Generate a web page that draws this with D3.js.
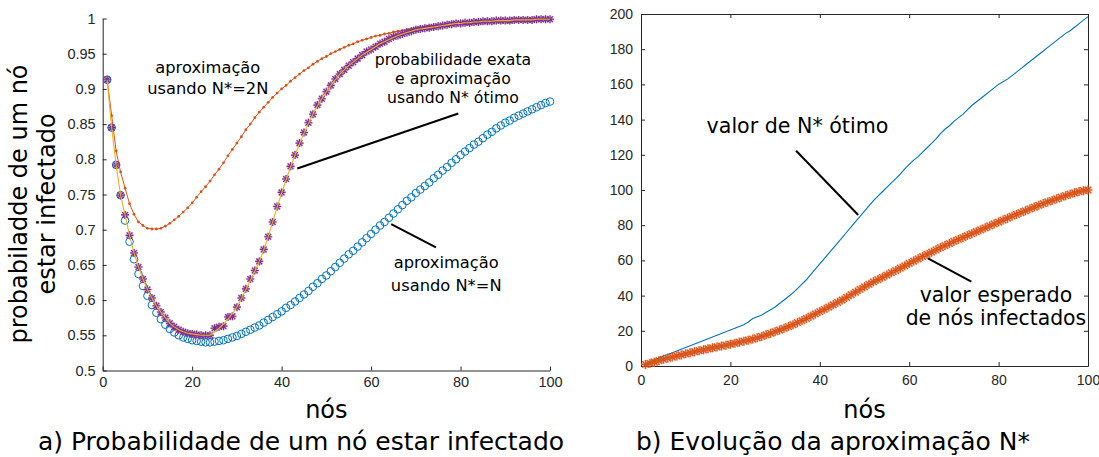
<!DOCTYPE html>
<html><head><meta charset="utf-8">
<script src="https://cdn.jsdelivr.net/npm/d3@7"></script>
<style>body{margin:0;background:#fff} svg{display:block}</style>
</head><body>
<svg id="c" width="1099" height="457"></svg>
<script>
// ---------- DATA ----------
const nos = d3.range(1, 101);

// a) probabilidade de um nó estar infectado
const probNstarN = [0.913,0.845,0.792,0.749,0.713,0.683,0.658,0.637,0.620,0.606,
0.593,0.582,0.573,0.565,0.559,0.554,0.550,0.547,0.545,0.543,
0.542,0.541,0.540,0.540,0.541,0.542,0.543,0.545,0.547,0.549,
0.552,0.555,0.558,0.561,0.564,0.568,0.572,0.576,0.580,0.584,
0.589,0.593,0.598,0.603,0.608,0.613,0.619,0.624,0.630,0.635,
0.641,0.647,0.653,0.659,0.665,0.670,0.676,0.682,0.688,0.694,
0.700,0.706,0.711,0.717,0.723,0.729,0.735,0.741,0.746,0.752,
0.757,0.762,0.767,0.773,0.778,0.784,0.789,0.795,0.800,0.806,
0.811,0.816,0.821,0.825,0.830,0.835,0.839,0.844,0.848,0.852,
0.855,0.859,0.862,0.865,0.868,0.871,0.874,0.877,0.880,0.882];

const probNstar2N = [0.913,0.862,0.812,0.782,0.759,0.737,0.722,0.711,0.706,0.702,
0.701,0.701,0.702,0.705,0.709,0.714,0.719,0.725,0.731,0.738,
0.746,0.754,0.761,0.769,0.778,0.786,0.795,0.805,0.814,0.823,
0.832,0.842,0.850,0.859,0.867,0.874,0.881,0.888,0.894,0.900,
0.905,0.911,0.916,0.921,0.926,0.930,0.935,0.939,0.943,0.946,
0.950,0.953,0.956,0.959,0.962,0.964,0.967,0.969,0.971,0.973,
0.975,0.976,0.978,0.979,0.981,0.982,0.983,0.984,0.985,0.986,
0.987,0.988,0.989,0.989,0.990,0.991,0.991,0.992,0.992,0.993,
0.993,0.994,0.994,0.995,0.995,0.995,0.996,0.996,0.996,0.997,
0.997,0.997,0.997,0.998,0.998,0.998,0.998,0.998,0.999,0.999];

const probExata = [0.913,0.845,0.792,0.749,0.721,0.692,0.667,0.647,0.630,0.615,
0.603,0.592,0.583,0.575,0.567,0.562,0.558,0.555,0.553,0.552,
0.551,0.550,0.550,0.550,0.555,0.560,0.566,0.573,0.581,0.590,
0.602,0.615,0.628,0.641,0.655,0.671,0.690,0.711,0.732,0.752,
0.771,0.789,0.806,0.822,0.837,0.851,0.864,0.876,0.886,0.896,
0.905,0.913,0.921,0.927,0.933,0.938,0.943,0.948,0.952,0.956,
0.960,0.964,0.967,0.970,0.973,0.976,0.978,0.980,0.982,0.984,
0.985,0.986,0.987,0.988,0.989,0.990,0.991,0.992,0.993,0.993,
0.994,0.994,0.995,0.995,0.996,0.996,0.996,0.997,0.997,0.997,
0.997,0.998,0.998,0.998,0.998,0.998,0.999,0.999,0.999,0.999];

const probNstarOtimo = [0.913,0.845,0.792,0.749,0.721,0.692,0.667,0.647,0.630,0.615,
0.603,0.592,0.583,0.575,0.567,0.562,0.558,0.555,0.553,0.552,
0.551,0.550,0.550,0.550,0.560,0.562,0.563,0.576,0.577,0.590,
0.603,0.616,0.630,0.642,0.655,0.672,0.690,0.711,0.733,0.753,
0.772,0.790,0.806,0.823,0.838,0.852,0.864,0.877,0.886,0.896,
0.905,0.914,0.921,0.927,0.933,0.938,0.943,0.948,0.953,0.956,
0.960,0.964,0.967,0.971,0.974,0.976,0.978,0.980,0.982,0.984,
0.985,0.986,0.987,0.988,0.989,0.990,0.991,0.992,0.993,0.993,
0.994,0.994,0.995,0.995,0.996,0.996,0.996,0.997,0.997,0.997,
0.997,0.998,0.998,0.998,0.998,0.998,0.999,0.999,0.999,0.999];

// b) evolução da aproximação N*
const valorNstarOtimo = [1,2.5,3.5,4.5,5.5,6.5,7.5,8.5,9.5,10.5,
11.5,12.5,13.5,14.5,15.5,16.5,17.5,18.5,19.5,20.5,
21.5,22.5,23.5,25,27,28,29,30.5,32,33.5,
35.5,37.5,39.5,41.5,44,46.5,49,52,55,58,
61,64,67,70,73,76,79,82,85,88,
91,94,96.5,99,101.5,104,106.5,109,112,114.5,
117,119,121.5,124,126.5,129,132,134.5,136.5,139,
141,143,145.5,148,150,152,154,156,158,160,
161.5,163,165,167,169,171,173,175,177,179,
181,183,185,187,189,190.5,192.5,194.5,196.5,198.5];

const valorEsperado = [0.9,1.5,2.2,3.0,3.8,4.5,5.1,5.7,6.3,6.9,
7.5,8.1,8.7,9.2,9.8,10.3,10.8,11.3,11.8,12.4,
12.9,13.5,14.1,14.7,15.3,16.0,16.8,17.7,18.6,19.5,
20.4,21.4,22.4,23.5,24.6,25.8,27.0,28.3,29.6,30.9,
32.2,33.5,34.8,36.2,37.5,39.0,40.5,42.0,43.5,45.0,
46.4,47.8,49.1,50.4,51.7,53.0,54.3,55.6,56.9,58.3,
59.6,60.9,62.2,63.4,64.7,66.0,67.3,68.4,69.6,70.8,
71.9,73.0,74.1,75.2,76.3,77.4,78.5,79.6,80.7,81.8,
82.9,84.0,85.1,86.1,87.2,88.2,89.3,90.3,91.3,92.3,
93.2,94.1,95.0,95.9,96.8,97.6,98.4,99.1,99.6,100.0];

// ticks
const xTicks = [0,20,40,60,80,100];
const xTickLabels = ["0","20","40","60","80","100"];
const yTicksL = [0.5,0.55,0.6,0.65,0.7,0.75,0.8,0.85,0.9,0.95,1];
const yTickLabelsL = ["0.5","0.55","0.6","0.65","0.7","0.75","0.8","0.85","0.9","0.95","1"];
const yTicksR = [0,20,40,60,80,100,120,140,160,180,200];
const yTickLabelsR = ["0","20","40","60","80","100","120","140","160","180","200"];

// texts
const xLabel = "nós";
const yLabelL = ["probabiladde de um nó", "estar infectado"];
const captionA = "a) Probabilidade de um nó estar infectado";
const captionB = "b) Evolução da aproximação N*";
const annot2N = ["aproximação", "usando N*=2N"];
const annotOtimo = ["probabilidade exata", "e aproximação", "usando N* ótimo"];
const annotN = ["aproximação", "usando N*=N"];
const annotValorOtimo = ["valor de N* ótimo"];
const annotEsperado = ["valor esperado", "de nós infectados"];

// ---------- DRAW ----------
const C = {blue:"#0072BD", red:"#D95319", yellow:"#EDB120", purple:"#7E2F8E", axis:"#262626"};
const svg = d3.select("#c");
const TXT = "DejaVu Sans, sans-serif";
const TICKF = "Liberation Sans, Arial, sans-serif";

const xL = d3.scaleLinear().domain([0,100]).range([102.7,550]);
const yL = d3.scaleLinear().domain([0.5,1]).range([370.5,18.5]);
const xR = d3.scaleLinear().domain([0,100]).range([641,1088]);
const yR = d3.scaleLinear().domain([0,200]).range([366,14]);

function styleAxis(g, fs){
  g.select(".domain").attr("stroke", C.axis).attr("stroke-width",1);
  g.selectAll(".tick line").attr("stroke", C.axis).attr("stroke-width",1);
  g.selectAll(".tick text").attr("fill", C.axis).attr("font-family", TICKF).attr("font-size", fs);
}
function fmt(ticks, labels){ return d => labels[ticks.indexOf(d)]; }

// asterisk marker path
function star(r){
  const k = r*0.72;
  return `M${-r},0L${r},0M0,${-r}L0,${r}M${-k},${-k}L${k},${k}M${-k},${k}L${k},${-k}`;
}

// ===== Left chart =====
const gL = svg.append("g");
gL.append("g").attr("transform",`translate(0,${yL(0.5)})`)
  .call(d3.axisBottom(xL).tickValues(xTicks).tickFormat(fmt(xTicks,xTickLabels)).tickSizeInner(-4).tickSizeOuter(0).tickPadding(6))
  .call(g=>styleAxis(g,14.5));
gL.append("g").attr("transform",`translate(${xL(0)},0)`)
  .call(d3.axisLeft(yL).tickValues(yTicksL).tickFormat(fmt(yTicksL,yTickLabelsL)).tickSizeInner(-4).tickSizeOuter(0).tickPadding(7))
  .call(g=>styleAxis(g,14.5));

// blue circles (N*=N)
gL.append("g").selectAll("circle").data(nos).join("circle")
  .attr("cx", (d,i)=>xL(d)).attr("cy",(d,i)=>yL(probNstarN[i])).attr("r",3.8)
  .attr("fill","none").attr("stroke",C.blue).attr("stroke-width",1);

// red line with dots (N*=2N)
const lineL = (arr)=>d3.line().x((d,i)=>xL(nos[i])).y(d=>yL(d))(arr);
gL.append("path").attr("d", lineL(probNstar2N)).attr("fill","none").attr("stroke",C.red).attr("stroke-width",1);
gL.append("g").selectAll("circle").data(nos).join("circle")
  .attr("cx",d=>xL(d)).attr("cy",(d,i)=>yL(probNstar2N[i])).attr("r",1.4).attr("fill",C.red);

// purple asterisks (N* ótimo)
const gS = gL.append("g");
gS.selectAll("path.h").data(nos).join("path").attr("class","h")
  .attr("transform",(d,i)=>`translate(${xL(d)},${yL(probNstarOtimo[i])})`)
  .attr("d", star(4)).attr("stroke",C.purple).attr("stroke-opacity",0.35).attr("stroke-width",2.2).attr("fill","none");
gS.selectAll("path.s").data(nos).join("path").attr("class","s")
  .attr("transform",(d,i)=>`translate(${xL(d)},${yL(probNstarOtimo[i])})`)
  .attr("d", star(4)).attr("stroke",C.purple).attr("stroke-width",1.1).attr("fill","none");

// yellow exact line
gL.append("path").attr("d", lineL(probExata)).attr("fill","none").attr("stroke",C.yellow).attr("stroke-width",1.1);

// ===== Right chart =====
const gR = svg.append("g");
gR.append("g").attr("transform",`translate(0,${yR(0)})`)
  .call(d3.axisBottom(xR).tickValues(xTicks).tickFormat(fmt(xTicks,xTickLabels)).tickSizeInner(-4).tickSizeOuter(0).tickPadding(9))
  .call(g=>styleAxis(g,14));
gR.append("g").attr("transform",`translate(${xR(0)},0)`)
  .call(d3.axisLeft(yR).tickValues(yTicksR).tickFormat(fmt(yTicksR,yTickLabelsR)).tickSizeInner(-4).tickSizeOuter(0).tickPadding(8))
  .call(g=>styleAxis(g,14));
gR.append("g").attr("transform",`translate(0,${yR(200)})`)
  .call(d3.axisTop(xR).tickValues(xTicks).tickFormat("").tickSizeInner(-4).tickSizeOuter(0))
  .call(g=>styleAxis(g,14));
gR.append("g").attr("transform",`translate(${xR(100)},0)`)
  .call(d3.axisRight(yR).tickValues(yTicksR).tickFormat("").tickSizeInner(-4).tickSizeOuter(0))
  .call(g=>styleAxis(g,14));

// blue line
gR.append("path").attr("d", d3.line().x((d,i)=>xR(nos[i])).y(d=>yR(d))(valorNstarOtimo))
  .attr("fill","none").attr("stroke",C.blue).attr("stroke-width",1.1);
// orange asterisks
const gS2 = gR.append("g");
gS2.selectAll("path.h").data(nos).join("path").attr("class","h")
  .attr("transform",(d,i)=>`translate(${xR(d)},${yR(valorEsperado[i])})`)
  .attr("d", star(4.5)).attr("stroke",C.red).attr("stroke-opacity",0.35).attr("stroke-width",2.4).attr("fill","none");
gS2.selectAll("path.s").data(nos).join("path").attr("class","s")
  .attr("transform",(d,i)=>`translate(${xR(d)},${yR(valorEsperado[i])})`)
  .attr("d", star(4.5)).attr("stroke",C.red).attr("stroke-width",1.1).attr("fill","none");

// ===== Annotations =====
function multi(g, lines, x, y, fs, lh){
  const t = g.append("text").attr("x",x).attr("y",y).attr("font-family",TXT).attr("font-size",fs)
    .attr("text-anchor","middle").attr("fill","#000");
  lines.forEach((s,i)=>t.append("tspan").attr("x",x).attr("y",y+i*lh).text(s));
}
function pointer(g, x1,y1,x2,y2){
  g.append("line").attr("x1",x1).attr("y1",y1).attr("x2",x2).attr("y2",y2)
    .attr("stroke","#000").attr("stroke-width",2);
}
multi(gL, annot2N, xL(23.5), yL(0.9226), 16.3, 21.5);
multi(gL, annotOtimo, xL(78.3), yL(0.934), 15.7, 19);
multi(gL, annotN, xL(76.8), yL(0.6452), 16.3, 22.4);
pointer(gL, xL(43.5), yL(0.787), xL(79.5), yL(0.865));
pointer(gL, xL(64.5), yL(0.708), xL(74.5), yL(0.675));

multi(gR, annotValorOtimo, xR(35.0), yR(132.2), 20.6, 23);
multi(gR, annotEsperado, xR(79.4), yR(36.5), 20.4, 23.3);
pointer(gR, xR(34.7), yR(122.3), xR(48.6), yR(85.8));
pointer(gR, xR(64.2), yR(61.2), xR(73.9), yR(47.9));

// axis labels
svg.append("text").attr("x",(xL(0)+xL(100))/2).attr("y",418).attr("text-anchor","middle")
  .attr("font-family",TXT).attr("font-size",24).text(xLabel);
svg.append("text").attr("x",(xR(0)+xR(100))/2).attr("y",418).attr("text-anchor","middle")
  .attr("font-family",TXT).attr("font-size",24).text(xLabel);
const yl = svg.append("text").attr("transform","translate(0,204) rotate(-90)")
  .attr("font-family",TXT).attr("font-size",24).attr("text-anchor","middle");
yl.append("tspan").attr("x",0).attr("y",27).text(yLabelL[0]);
yl.append("tspan").attr("x",0).attr("y",55).text(yLabelL[1]);

// captions
svg.append("text").attr("x",301).attr("y",450).attr("text-anchor","middle")
  .attr("font-family",TXT).attr("font-size",25).text(captionA);
svg.append("text").attr("x",833).attr("y",450).attr("text-anchor","middle")
  .attr("font-family",TXT).attr("font-size",25).text(captionB);
</script>
</body></html>
